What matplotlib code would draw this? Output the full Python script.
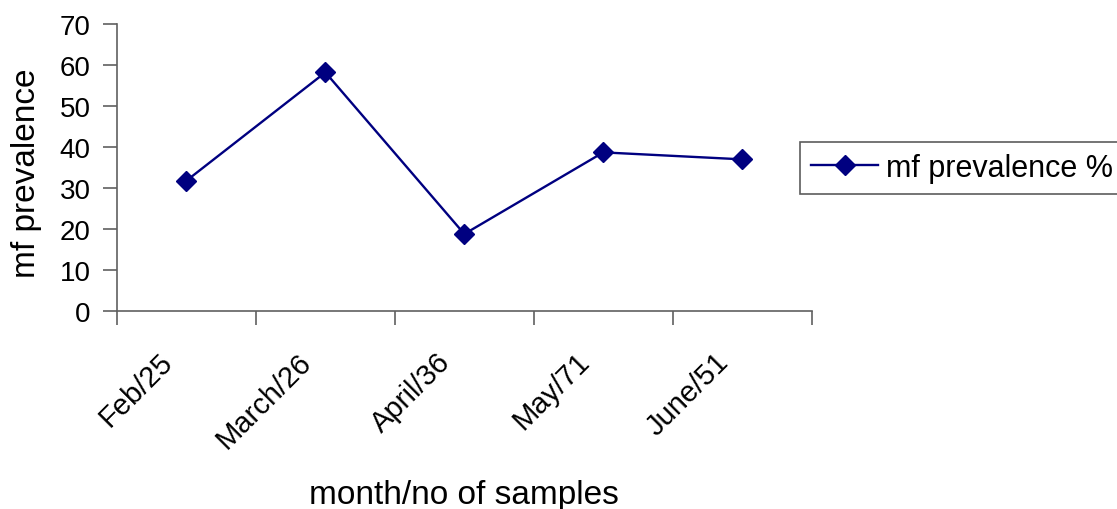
import matplotlib.pyplot as plt
import matplotlib.transforms as mtransforms
import numpy as np

months = ["Feb/25", "March/26", "April/36", "May/71", "June/51"]
prevalence = [31.8, 58.2, 18.8, 38.7, 37.0]

plt.rcParams['font.family'] = ['Liberation Sans', 'DejaVu Sans']

fig = plt.figure(figsize=(11.17, 5.10), dpi=100)
ax = fig.add_axes([0.1047, 0.388, 0.622, 0.563])

x = np.arange(len(months))
ax.plot(x, prevalence, color="#000080", lw=1.7, marker="D", markersize=10,
        label="mf prevalence %")

ax.set_xlim(-0.5, len(months) - 0.5)
ax.set_ylim(0, 70)
ax.set_yticks(range(0, 71, 10))
ax.set_xticks(x)
ax.set_xticklabels(months, rotation=45, ha="right", va="center",
                   rotation_mode="anchor")
ax.set_xticks(np.arange(-0.5, len(months)), minor=True)
ax.tick_params(axis="x", which="major", length=0, pad=33, labelsize=21)
ax.tick_params(axis="x", which="minor", length=10, width=1.2, color="#606060")
ax.tick_params(axis="y", length=10, width=1.2, color="#606060", labelsize=20, pad=9)

# nudge the rotated month labels to the left, like the original
shift = mtransforms.ScaledTranslation(-13 / 72, 0, fig.dpi_scale_trans)
for lbl in ax.get_xticklabels():
    lbl.set_transform(lbl.get_transform() + shift)

for s in ["top", "right"]:
    ax.spines[s].set_visible(False)
for s in ["left", "bottom"]:
    ax.spines[s].set_color("#606060")
    ax.spines[s].set_linewidth(1.2)

ax.set_ylabel("mf prevalence", fontsize=24)
ax.yaxis.set_label_coords(-0.108, 0.484)
ax.set_xlabel("month/no of samples", fontsize=24)
ax.xaxis.set_label_coords(0.5, -0.585)

leg = ax.legend(loc="upper left", bbox_to_anchor=(800 / 1117, 1 - 143 / 510),
                bbox_transform=fig.transFigure, fontsize=22, frameon=True,
                fancybox=False, borderpad=0.36, handlelength=2.2,
                handletextpad=0.25, borderaxespad=0)
leg.get_frame().set_edgecolor("#333333")
leg.get_frame().set_linewidth(1.2)

fig.savefig("out.png", dpi=100)
